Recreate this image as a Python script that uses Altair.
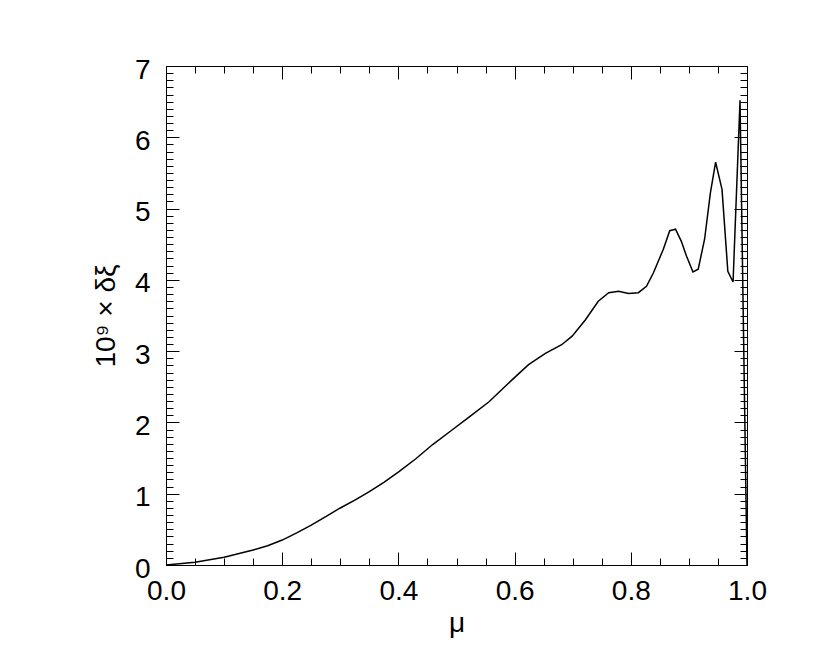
import altair as alt
import pandas as pd

mu = [0.0, 0.05, 0.1, 0.15, 0.175, 0.2, 0.225, 0.25, 0.275, 0.3, 0.325, 0.35, 0.375,
      0.401, 0.43, 0.459, 0.49, 0.521, 0.556, 0.596,
      0.624, 0.653, 0.681, 0.699, 0.722, 0.744, 0.762, 0.779, 0.796, 0.813, 0.827,
      0.839, 0.856, 0.867, 0.877, 0.887, 0.896, 0.907, 0.916, 0.927, 0.937, 0.946,
      0.957, 0.967, 0.976, 0.988, 1.0]
dxi = [0.0, 0.04, 0.11, 0.21, 0.27, 0.35, 0.45, 0.56, 0.68, 0.80, 0.91, 1.03, 1.16,
       1.31, 1.49, 1.69, 1.88, 2.07, 2.29, 2.60,
       2.81, 2.97, 3.09, 3.21, 3.44, 3.70, 3.82, 3.84, 3.81, 3.82, 3.91,
       4.10, 4.43, 4.69, 4.71, 4.54, 4.33, 4.11, 4.15, 4.57, 5.22, 5.65,
       5.27, 4.12, 3.97, 6.52, 0.0]

x_major = [0.0, 0.2, 0.4, 0.6, 0.8, 1.0]
x_minor = [round(i * 0.05, 2) for i in range(21)]
y_major = [0, 1, 2, 3, 4, 5, 6, 7]
y_minor = [round(i * 0.1, 1) for i in range(71)]

df = pd.DataFrame({"mu": mu, "dxi": dxi})

FONT = "Liberation Sans"
MAJ = 13
MIN = 7

xscale = alt.Scale(domain=[0, 1], nice=False, zero=False)
yscale = alt.Scale(domain=[0, 7], nice=False, zero=False)


def xaxis(orient, values, size, labels=False, title=None):
    kw = dict(orient=orient, values=values, tickSize=size, offset=-size,
              domain=False, grid=False, labels=labels, tickColor="black",
              tickWidth=1)
    if labels:
        kw.update(format=".1f", labelFont=FONT, labelFontSize=28,
                  labelColor="black", labelPadding=12, labelFlush=False,
                  labelOverlap=False)
    if title:
        kw.update(title=title, titleFont=FONT, titleFontSize=28,
                  titleFontWeight="normal", titleColor="black", titlePadding=4)
    else:
        kw.update(title=None)
    return alt.Axis(**kw)


def yaxis(orient, values, size, labels=False, title=None):
    kw = dict(orient=orient, values=values, tickSize=size, offset=-size,
              domain=False, grid=False, labels=labels, tickColor="black",
              tickWidth=1)
    if labels:
        kw.update(format="d", labelFont=FONT, labelFontSize=28,
                  labelColor="black", labelPadding=16, labelFlush=False,
                  labelOverlap=False, labelOffset=4)
    if title:
        kw.update(title=title, titleFont=FONT, titleFontSize=28,
                  titleFontWeight="normal", titleColor="black", titlePadding=14)
    else:
        kw.update(title=None)
    return alt.Axis(**kw)


base = alt.Chart(df)

main = base.mark_line(color="black", strokeWidth=1.5).encode(
    x=alt.X("mu:Q", scale=xscale,
            axis=xaxis("bottom", x_major, MAJ, labels=True, title="μ")),
    y=alt.Y("dxi:Q", scale=yscale,
            axis=yaxis("left", y_major, MAJ, labels=True, title="10⁹ × δξ")),
)

minor1 = base.mark_line(opacity=0).encode(
    x=alt.X("mu:Q", scale=xscale, axis=xaxis("bottom", x_minor, MIN)),
    y=alt.Y("dxi:Q", scale=yscale, axis=yaxis("left", y_minor, MIN)),
)

major2 = base.mark_line(opacity=0).encode(
    x=alt.X("mu:Q", scale=xscale, axis=xaxis("top", x_major, MAJ)),
    y=alt.Y("dxi:Q", scale=yscale, axis=yaxis("right", y_major, MAJ)),
)

minor2 = base.mark_line(opacity=0).encode(
    x=alt.X("mu:Q", scale=xscale, axis=xaxis("top", x_minor, MIN)),
    y=alt.Y("dxi:Q", scale=yscale, axis=yaxis("right", y_minor, MIN)),
)

chart = alt.layer(main, minor1, major2, minor2).resolve_axis(
    x="independent", y="independent"
).properties(
    width=581,
    height=499,
    autosize=alt.AutoSizeParams(type="none"),
    padding={"left": 158, "top": 58, "right": 60, "bottom": 80},
    background="white",
).configure_view(
    stroke="black", strokeWidth=1
)

chart.save("out.html", embed_options={"renderer": "svg", "actions": False})
